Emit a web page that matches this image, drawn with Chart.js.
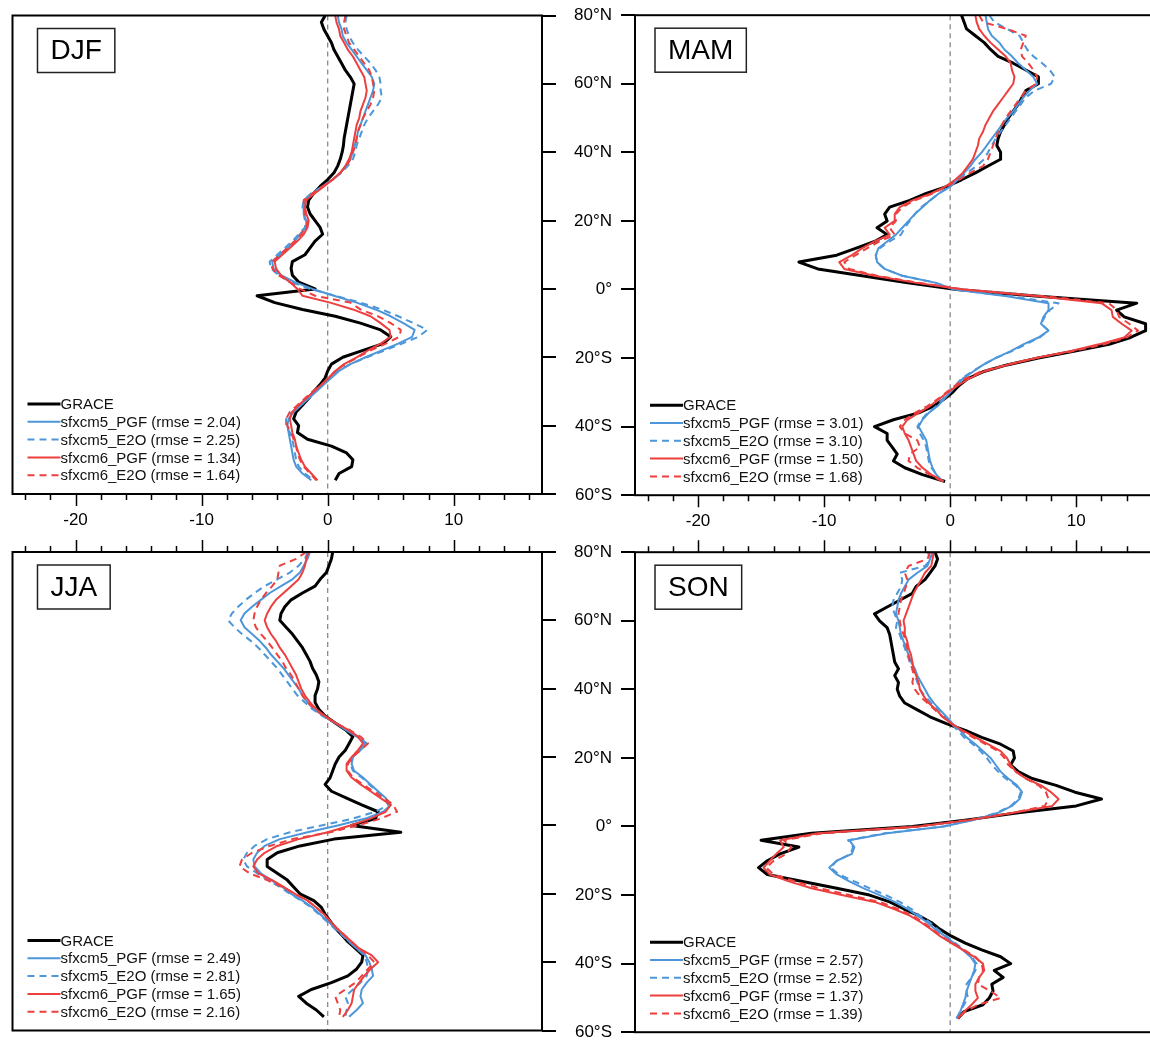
<!DOCTYPE html>
<html>
<head>
    <meta charset="utf-8">
    <title>Zonal mean by season</title>
    <script src="https://cdn.jsdelivr.net/npm/chart.js"></script>
    <style>
        html, body { margin: 0; padding: 0; background: #fff; overflow: hidden; }
        body { width: 1150px; height: 1040px; position: relative; }
        canvas { position: absolute; }
    </style>
    <script>
        // latitude of every sample, north to south
        const lat = [80, 78, 76, 74, 72, 70, 68, 66, 64, 62,
                     60, 58, 56, 54, 52, 50, 48, 46, 44, 42,
                     40, 38, 36, 34, 32, 30, 28, 26, 24, 22,
                     20, 18, 16, 14, 12, 10, 8, 6, 4, 2,
                     0, -2, -4, -6, -8, -10, -12, -14, -16, -18,
                     -20, -22, -24, -26, -28, -30, -32, -34, -36, -38,
                     -40, -42, -44, -46, -48, -50, -52, -54, -56];

        const xTicks = [-20, -10, 0, 10];
        const latTicks = [80, 60, 40, 20, 0, -20, -40, -60];
        const latLabels = ["80°N", "60°N", "40°N", "20°N", "0°", "20°S", "40°S", "60°S"];
        const seriesNames = ["GRACE", "sfxcm5_PGF", "sfxcm5_E2O", "sfxcm6_PGF", "sfxcm6_E2O"];

        // DJF
        const djfGrace = [-0.2, -0.5, -0.3, 0.0, 0.3, 0.5, 0.8, 1.1, 1.4, 1.8,
            2.1, 2.0, 1.9, 1.8, 1.7, 1.6, 1.5, 1.4, 1.3, 1.25,
            1.15, 1.0, 0.8, 0.5, 0.0, -0.6, -1.1, -1.5, -1.6, -1.4,
            -1.0, -0.6, -0.4, -1.0, -1.4, -1.8, -2.8, -2.9, -2.8, -2.3,
            -1.0, -5.6, -4.2, -2.0, 0.6, 2.6, 4.2, 5.0, 4.4, 2.8,
            1.2, 0.3, 0.0, -0.2, -0.6, -1.1, -1.5, -2.0, -2.5, -2.7,
            -2.3, -2.4, -1.6, 0.3, 1.5, 2.0, 1.9, 0.9, 0.6];
        const djfCm5Pgf = [0.8, 0.9, 1.1, 1.2, 1.5, 1.9, 2.3, 2.7, 3.1, 3.5,
            3.7, 3.6, 3.4, 3.2, 3.0, 2.8, 2.6, 2.4, 2.3, 2.15,
            2.0, 1.8, 1.5, 1.0, 0.4, -0.4, -1.2, -1.8, -1.9, -1.9,
            -1.7, -1.7, -2.2, -2.6, -3.2, -3.8, -4.4, -4.3, -3.7, -2.6,
            -1.2, 0.5, 2.3, 3.8, 5.0, 6.0, 6.9, 6.7, 5.6, 4.3,
            3.0, 1.8, 0.9, 0.3, -0.3, -0.9, -1.5, -2.1, -2.7, -3.1,
            -3.2, -3.1, -3.0, -2.9, -2.8, -2.7, -2.5, -2.0, -1.3];
        const djfCm5E2o = [1.5, 1.4, 1.5, 1.7, 2.0, 2.4, 2.9, 3.4, 3.8, 4.1,
            4.2, 4.2, 4.3, 4.0, 3.6, 3.2, 2.9, 2.7, 2.5, 2.3,
            2.2, 2.0, 1.6, 1.1, 0.4, -0.4, -1.3, -1.9, -2.0, -1.9,
            -1.8, -1.8, -2.3, -2.8, -3.4, -4.0, -4.6, -4.5, -3.9, -2.9,
            -1.4, 0.6, 2.6, 4.3, 5.6, 6.8, 7.9, 7.2, 5.9, 4.5,
            3.1, 1.8, 0.8, 0.2, -0.4, -1.0, -1.6, -2.2, -2.8, -3.3,
            -3.3, -3.0, -2.8, -2.7, -2.6, -2.5, -2.3, -1.8, -1.1];
        const djfCm6Pgf = [0.6, 0.7, 0.9, 1.0, 1.3, 1.6, 2.0, 2.3, 2.6, 2.9,
            3.0, 3.1, 3.0, 2.8, 2.6, 2.5, 2.3, 2.2, 2.1, 2.0,
            1.9, 1.7, 1.4, 1.0, 0.4, -0.3, -1.0, -1.7, -1.8, -1.7,
            -1.5, -1.6, -1.9, -2.4, -3.0, -3.6, -4.2, -4.1, -3.7, -3.0,
            -2.4, -2.0, 0.2, 2.0, 3.4, 4.2, 4.9, 5.0, 4.2, 3.2,
            2.3, 1.3, 0.6, 0.1, -0.5, -1.1, -1.7, -2.3, -2.8, -3.0,
            -2.9, -2.8, -2.6, -2.5, -2.3, -2.1, -1.8, -1.3, -0.8];
        const djfCm6E2o = [1.4, 1.3, 1.3, 1.5, 1.7, 2.1, 2.5, 2.9, 3.3, 3.5,
            3.6, 3.7, 3.6, 3.4, 3.1, 2.8, 2.6, 2.4, 2.3, 2.2,
            2.0, 1.8, 1.5, 1.0, 0.4, -0.4, -1.2, -1.9, -1.9, -1.8,
            -1.6, -1.7, -2.1, -2.6, -3.2, -3.8, -4.4, -4.4, -3.9, -3.0,
            -2.2, -1.0, 1.8, 2.6, 4.0, 5.0, 5.8, 5.7, 4.6, 3.4,
            2.4, 1.4, 0.6, 0.1, -0.5, -1.2, -1.8, -2.4, -3.0, -3.3,
            -3.2, -2.9, -2.7, -2.5, -2.4, -2.2, -1.9, -1.4, -0.9];
        const djfRmse = [2.04, 2.25, 1.34, 1.64];

        // MAM
        const mamGrace = [0.9, 1.1, 1.3, 2.0, 2.7, 3.2, 3.8, 5.0, 6.0, 7.0,
            7.0, 6.0, 5.7, 5.4, 5.0, 4.6, 4.3, 4.0, 3.8, 3.7,
            4.0, 4.0, 3.0, 2.0, 0.9, -0.3, -1.9, -3.2, -4.8, -5.2,
            -5.0, -5.8, -5.0, -6.0, -7.5, -9.0, -12.0, -10.5, -7.0, -3.5,
            0.5, 7.0, 14.8, 13.2, 13.8, 15.5, 15.5, 14.3, 12.6, 9.8,
            7.0, 4.5, 2.6, 1.4, 0.7, 0.2, -0.5, -1.3, -2.5, -4.5,
            -6.0, -5.0, -5.0, -4.6, -4.2, -4.5, -3.6, -2.2, -0.4];
        const mamCm5Pgf = [2.8, 2.9, 3.0, 3.3, 3.9, 4.3, 4.9, 5.4, 6.0, 6.6,
            6.9, 6.3, 5.8, 5.4, 5.0, 4.5, 4.1, 3.7, 3.3, 2.9,
            2.5, 2.0, 1.6, 1.1, 0.6, 0.0, -0.9, -1.6, -2.2, -2.8,
            -3.3, -3.8, -4.3, -5.0, -5.7, -5.9, -5.8, -5.2, -3.8, -1.2,
            0.3, 4.5, 7.8, 7.8, 7.4, 7.2, 7.8, 7.0, 5.8, 4.8,
            3.6, 2.6, 1.8, 1.0, 0.5, 0.0, -0.5, -1.0, -1.7, -2.2,
            -2.5, -2.2, -1.9, -1.8, -1.7, -1.6, -1.4, -1.1, -0.6];
        const mamCm5E2o = [3.1, 3.5, 4.5, 5.5, 5.8, 6.1, 6.6, 7.3, 7.9, 8.3,
            8.0, 6.7, 6.0, 5.6, 5.2, 4.8, 4.4, 4.0, 3.6, 3.3,
            3.0, 2.7, 2.1, 1.3, 0.6, 0.0, -0.9, -1.6, -2.3, -2.8,
            -3.2, -3.6, -3.9, -4.8, -5.6, -5.9, -5.8, -5.2, -3.8, -1.2,
            0.4, 4.8, 8.6, 7.9, 7.5, 7.2, 7.8, 7.1, 6.0, 4.9,
            3.6, 2.6, 1.7, 0.9, 0.4, -0.1, -0.6, -1.1, -1.8, -2.3,
            -2.6, -2.4, -2.1, -1.9, -1.8, -1.7, -1.5, -1.1, -0.6];
        const mamCm6Pgf = [2.0, 2.1, 2.3, 2.7, 3.2, 3.8, 4.4, 4.8, 4.9, 5.1,
            5.0, 4.6, 4.2, 3.8, 3.4, 3.1, 2.8, 2.6, 2.3, 2.2,
            2.0, 1.8, 1.4, 1.0, 0.4, -0.4, -1.5, -3.0, -4.0, -4.4,
            -4.4, -5.2, -4.8, -6.0, -7.0, -7.8, -8.8, -8.4, -6.0, -2.8,
            1.0, 7.0, 12.0, 12.8, 12.9, 13.6, 14.4, 13.8, 11.8, 9.5,
            6.8, 4.5, 2.6, 1.5, 0.6, -0.2, -0.9, -1.6, -2.5, -3.4,
            -3.8, -3.6, -3.3, -3.1, -2.9, -2.7, -2.2, -1.5, -0.5];
        const mamCm6E2o = [2.3, 2.6, 4.5, 6.0, 5.8, 5.6, 5.7, 6.2, 6.6, 6.9,
            6.8, 6.0, 5.6, 5.2, 4.8, 4.4, 4.1, 3.8, 3.6, 3.4,
            3.2, 3.0, 2.6, 1.6, 0.7, -0.3, -1.4, -2.8, -3.8, -4.3,
            -4.3, -4.8, -4.4, -5.6, -6.6, -7.5, -8.4, -8.0, -5.8, -2.6,
            1.2, 7.6, 12.6, 13.2, 13.4, 14.2, 14.9, 14.0, 12.2, 9.7,
            6.8, 4.4, 2.4, 1.2, 0.4, -0.3, -1.0, -1.8, -2.8, -3.6,
            -4.0, -3.6, -2.6, -2.4, -3.2, -3.3, -2.6, -1.6, -0.6];
        const mamRmse = [3.01, 3.10, 1.50, 1.68];

        // JJA
        const jjaGrace = [0.4, 0.3, 0.1, -0.1, -0.6, -1.0, -2.0, -2.9, -3.4, -3.7,
            -3.8, -3.3, -2.8, -2.4, -2.0, -1.7, -1.4, -1.2, -0.9, -0.7,
            -0.8, -1.0, -1.0, -0.7, -0.2, 0.6, 1.4, 2.0, 1.7, 1.4,
            0.9, 0.6, 0.4, 0.2, -0.2, 0.3, 1.5, 2.7, 4.0, 3.8,
            1.9, 5.8, 0.5, -2.2, -4.0, -4.8, -4.8, -4.0, -3.2, -2.7,
            -2.2, -1.1, -0.5, -0.2, 0.2, 0.6, 1.1, 1.6, 2.2, 2.8,
            2.7, 2.3, 1.6, 0.3, -1.3, -2.3, -1.7, -0.9, -0.3];
        const jjaCm5Pgf = [-1.4, -1.6, -1.9, -2.2, -2.8, -3.7, -4.6, -5.3, -6.0, -6.6,
            -6.9, -6.6, -6.0, -5.4, -4.9, -4.5, -4.0, -3.5, -3.1, -2.7,
            -2.3, -2.0, -1.6, -1.1, -0.3, 0.6, 1.4, 2.3, 3.0, 2.5,
            2.0, 1.9, 2.1, 2.8, 3.4, 4.0, 4.6, 5.0, 4.4, 3.0,
            0.8, -1.6, -3.8, -5.0, -5.6, -5.9, -5.8, -5.3, -4.5, -3.6,
            -2.9, -2.0, -1.2, -0.6, 0.0, 0.6, 1.2, 1.7, 2.3, 3.0,
            3.3, 3.5, 3.6, 3.1, 2.7, 2.6, 2.8, 2.3, 1.7];
        const jjaCm5E2o = [-1.6, -1.8, -2.3, -3.0, -4.0, -5.0, -5.8, -6.5, -7.1, -7.6,
            -7.9, -7.4, -6.8, -6.1, -5.5, -5.0, -4.5, -4.0, -3.6, -3.2,
            -2.8, -2.4, -1.8, -1.2, -0.4, 0.6, 1.5, 2.4, 3.1, 2.6,
            2.0, 1.8, 2.0, 2.7, 3.3, 3.9, 4.5, 4.8, 3.8, 2.0,
            -0.5, -3.0, -4.8, -5.8, -6.4, -6.7, -6.4, -5.6, -4.7, -3.8,
            -3.0, -2.1, -1.3, -0.7, -0.1, 0.5, 1.1, 1.7, 2.3, 2.9,
            3.1, 3.2, 3.1, 2.6, 2.0, 1.4, 1.6, 1.5, 1.4];
        const jjaCm6Pgf = [-1.5, -1.7, -1.8, -2.0, -2.3, -2.9, -3.5, -4.1, -4.5, -4.8,
            -5.0, -4.8, -4.5, -4.1, -3.8, -3.4, -3.1, -2.8, -2.5, -2.3,
            -2.1, -1.8, -1.4, -0.9, -0.2, 0.6, 1.6, 2.4, 2.8, 2.4,
            1.9, 1.5, 1.5, 1.9, 2.6, 3.4, 4.2, 5.0, 4.6, 3.4,
            1.8, 0.0, -2.3, -4.0, -5.0, -5.6, -5.9, -5.5, -4.4, -3.5,
            -2.6, -1.6, -0.9, -0.3, 0.2, 0.7, 1.3, 1.9, 2.5, 3.5,
            4.0, 3.4, 2.9, 2.5, 2.1, 2.0, 1.9, 1.6, 1.2];
        const jjaCm6E2o = [-1.7, -2.5, -3.8, -3.9, -4.0, -4.4, -4.9, -5.3, -5.6, -5.8,
            -5.9, -5.7, -5.3, -4.8, -4.4, -4.0, -3.6, -3.3, -2.9, -2.6,
            -2.3, -2.0, -1.6, -1.0, -0.3, 0.6, 1.7, 2.6, 3.2, 2.6,
            2.0, 1.6, 1.6, 2.0, 2.8, 3.6, 4.5, 5.2, 5.5, 4.2,
            2.4, 0.2, -2.8, -4.6, -6.0, -6.8, -7.0, -6.2, -4.8, -3.6,
            -2.6, -1.6, -0.9, -0.3, 0.2, 0.7, 1.3, 1.9, 2.5, 3.2,
            3.7, 3.2, 2.7, 2.2, 1.4, 0.6, 0.8, 1.0, 0.9];
        const jjaRmse = [2.49, 2.81, 1.65, 2.16];

        // SON
        const sonGrace = [-1.2, -1.0, -1.2, -1.6, -2.0, -2.7, -3.0, -4.0, -5.0, -6.0,
            -5.6, -5.0, -4.8, -4.7, -4.6, -4.5, -4.4, -4.1, -4.4, -4.1,
            -4.2, -4.0, -3.6, -2.6, -1.6, -0.3, 1.2, 2.5, 4.0, 5.0,
            5.1, 4.8, 5.4, 6.5, 8.4, 9.9, 12.0, 10.0, 5.4, 1.5,
            -3.0, -11.0, -15.0, -12.0, -13.5, -14.5, -15.2, -14.5, -11.8, -9.0,
            -6.4, -4.8, -3.7, -2.5, -1.5, -0.8, 0.1, 1.2, 2.5, 4.0,
            4.8, 3.5, 4.2, 3.3, 3.4, 3.1, 2.6, 1.1, 0.6];
        const sonCm5Pgf = [-1.4, -1.6, -1.8, -2.6, -3.3, -3.6, -3.9, -4.1, -4.2, -4.3,
            -4.1, -4.0, -3.9, -3.7, -3.5, -3.3, -3.1, -2.8, -2.6, -2.3,
            -2.0, -1.7, -1.3, -0.8, -0.3, 0.2, 0.8, 1.3, 2.0, 2.6,
            3.2, 3.6, 4.0, 4.6, 5.3, 5.7, 5.5, 4.9, 3.8, 2.0,
            -0.5, -5.0, -8.0, -7.6, -7.8, -9.0, -9.6, -9.0, -8.0, -6.9,
            -5.6, -4.4, -3.4, -2.6, -1.8, -1.2, -0.4, 0.3, 1.0, 1.6,
            2.0, 1.9, 1.7, 1.5, 1.3, 1.2, 1.0, 0.8, 0.5];
        const sonCm5E2o = [-1.8, -1.5, -2.0, -4.0, -3.8, -3.9, -4.2, -4.5, -4.6, -4.4,
            -4.2, -4.3, -4.0, -3.8, -3.6, -3.4, -3.2, -3.0, -2.8, -2.6,
            -2.4, -2.0, -1.5, -0.9, -0.4, 0.1, 0.6, 1.1, 1.8, 2.4,
            2.9, 3.3, 3.8, 4.4, 5.2, 5.6, 5.4, 4.8, 3.7, 1.9,
            -0.6, -5.2, -8.1, -7.7, -7.9, -9.0, -9.5, -8.8, -7.6, -6.4,
            -5.1, -4.0, -3.1, -2.4, -1.6, -1.0, -0.3, 0.4, 1.1, 1.7,
            2.1, 2.0, 1.7, 1.3, 1.3, 1.4, 1.1, 0.8, 0.5];
        const sonCm6Pgf = [-1.3, -1.4, -1.5, -2.0, -2.3, -2.6, -2.9, -3.1, -3.3, -3.5,
            -3.7, -3.6, -3.6, -3.4, -3.3, -3.1, -3.0, -2.9, -2.7, -2.5,
            -2.4, -2.1, -1.7, -1.1, -0.6, 0.1, 1.0, 2.0, 3.0, 4.0,
            4.5, 4.8, 5.2, 6.0, 7.2, 8.0, 8.6, 8.1, 5.0, 1.8,
            -2.5, -10.5, -13.5, -13.2, -13.8, -14.3, -14.8, -14.3, -12.8, -11.0,
            -8.6, -6.0, -4.5, -3.2, -2.3, -1.5, -0.8, 0.1, 1.0, 1.9,
            2.6, 2.7, 2.3, 2.0, 2.0, 2.2, 1.7, 1.1, 0.6];
        const sonCm6E2o = [-1.6, -1.8, -3.3, -3.6, -3.4, -3.5, -3.7, -3.9, -4.0, -4.1,
            -4.0, -3.9, -3.7, -3.5, -3.4, -3.3, -3.2, -3.0, -2.9, -3.0,
            -2.8, -2.4, -1.8, -1.2, -0.6, 0.1, 0.9, 1.8, 2.8, 3.8,
            4.3, 4.6, 5.2, 6.0, 7.0, 7.6, 7.8, 7.5, 5.0, 1.6,
            -2.6, -10.2, -13.2, -12.6, -13.0, -14.0, -14.6, -14.0, -12.3, -10.4,
            -8.0, -5.6, -4.2, -3.0, -2.1, -1.4, -0.7, 0.2, 1.1, 2.0,
            2.5, 2.6, 2.3, 2.2, 3.2, 4.0, 2.2, 1.2, 0.6];
        const sonRmse = [2.57, 2.52, 1.37, 1.39];

        const BLUE = "#4d96da";
        const RED = "#ee3f3f";
        const FONT = '"Liberation Sans", Arial, Helvetica, sans-serif';
        const lineStyles = [
            { color: "#000000", width: 3, dash: [] },
            { color: BLUE, width: 2, dash: [] },
            { color: BLUE, width: 2, dash: [7, 5] },
            { color: RED, width: 2, dash: [] },
            { color: RED, width: 2, dash: [7, 5] }
        ];

        // plot frame, tick marks, zero line, season box and legend
        const panelDecor = {
            id: "panelDecor",
            beforeDatasetsDraw(chart) {
                const a = chart.chartArea;
                const px = chart.scales.x.getPixelForValue(0);
                const ctx = chart.ctx;
                ctx.save();
                ctx.strokeStyle = "#8a8a8a";
                ctx.lineWidth = 1.3;
                ctx.setLineDash([5, 4]);
                ctx.beginPath();
                ctx.moveTo(px, a.top);
                ctx.lineTo(px, a.bottom);
                ctx.stroke();
                ctx.restore();
            },
            afterDraw(chart, args, opts) {
                const ctx = chart.ctx;
                const a = chart.chartArea;
                const xs = chart.scales.x;
                const ys = chart.scales.y;
                ctx.save();
                ctx.strokeStyle = "#000";
                ctx.lineWidth = 2;
                ctx.strokeRect(a.left, a.top, a.right - a.left, a.bottom - a.top);

                // x ticks, outward
                const xEdge = opts.xSide === "bottom" ? a.bottom : a.top;
                const xDir = opts.xSide === "bottom" ? 1 : -1;
                ctx.lineWidth = 1.5;
                ctx.beginPath();
                for (let v = -24; v <= 16; v += 2) {
                    const p = Math.round(xs.getPixelForValue(v)) + 0.5;
                    const len = xTicks.includes(v) ? 12 : 6;
                    ctx.moveTo(p, xEdge);
                    ctx.lineTo(p, xEdge + xDir * len);
                }
                ctx.stroke();

                // latitude ticks, outward
                const yEdge = opts.ySide === "left" ? a.left : a.right;
                const yDir = opts.ySide === "left" ? -1 : 1;
                ctx.lineWidth = 2;
                ctx.beginPath();
                latTicks.forEach(v => {
                    const p = Math.round(ys.getPixelForValue(v));
                    ctx.moveTo(yEdge, p);
                    ctx.lineTo(yEdge + yDir * 14, p);
                });
                ctx.stroke();

                // season label box
                ctx.font = "28px " + FONT;
                ctx.fillStyle = "#000";
                ctx.textBaseline = "middle";
                ctx.textAlign = "center";
                const tw = ctx.measureText(opts.season).width;
                const bx = a.left + opts.boxOffset, by = a.top + 13, bw = tw + 26, bh = 44;
                ctx.lineWidth = 1.5;
                ctx.strokeStyle = "#222";
                ctx.strokeRect(bx, by, bw, bh);
                ctx.fillText(opts.season, bx + bw / 2, by + bh / 2 + 1);

                // legend
                ctx.font = "15px " + FONT;
                ctx.textAlign = "left";
                chart.data.datasets.forEach((ds, i) => {
                    const y = a.bottom - 90 + i * 17.8;
                    ctx.strokeStyle = ds.borderColor;
                    ctx.lineWidth = ds.borderWidth;
                    ctx.setLineDash(ds.borderDash);
                    ctx.beginPath();
                    ctx.moveTo(a.left + 15, y);
                    ctx.lineTo(a.left + 48, y);
                    ctx.stroke();
                    ctx.setLineDash([]);
                    ctx.fillStyle = "#111";
                    ctx.fillText(ds.label, a.left + 48, y + 1);
                });
                ctx.restore();
            }
        };

        const PLOT_W = 531, PLOT_H = 480;
        const colLeft = [12, 635];
        const rowTop = [15, 552];

        function makePanel(id, season, series, rmse, col, row) {
            const yAxisW = col === 0 ? 16 : 95;
            const xAxisH = row === 0 ? 40 : 18;
            const canvas = document.getElementById(id);
            canvas.width = PLOT_W + yAxisW + 20;
            canvas.height = PLOT_H + xAxisH + 40;

            const datasets = series.map((values, i) => ({
                label: i === 0 ? seriesNames[0]
                    : seriesNames[i] + " (rmse = " + rmse[i - 1].toFixed(2) + ")",
                data: lat.map((la, k) => ({ x: values[k], y: la })),
                showLine: true,
                pointRadius: 0,
                borderColor: lineStyles[i].color,
                borderWidth: lineStyles[i].width,
                borderDash: lineStyles[i].dash,
                borderJoinStyle: "round",
                order: 5 - i
            }));

            const chart = new Chart(canvas.getContext("2d"), {
                type: "scatter",
                data: { datasets },
                options: {
                    responsive: false,
                    maintainAspectRatio: false,
                    devicePixelRatio: 1,
                    animation: false,
                    events: [],
                    layout: { padding: 0 },
                    plugins: {
                        legend: { display: false },
                        tooltip: { enabled: false },
                        panelDecor: {
                            season,
                            xSide: row === 0 ? "bottom" : "top",
                            ySide: col === 0 ? "right" : "left",
                            boxOffset: col === 0 ? 25 : 20
                        }
                    },
                    scales: {
                        x: {
                            type: "linear",
                            position: row === 0 ? "bottom" : "top",
                            min: -25,
                            max: 17,
                            grid: { display: false, drawTicks: false },
                            border: { display: false },
                            afterBuildTicks: s => { s.ticks = xTicks.map(v => ({ value: v })); },
                            afterFit: s => { s.height = xAxisH; },
                            ticks: {
                                display: row === 0,
                                autoSkip: false,
                                maxRotation: 0,
                                padding: 16,
                                color: "#000",
                                font: { family: FONT, size: 17 }
                            }
                        },
                        y: {
                            type: "linear",
                            position: col === 0 ? "right" : "left",
                            min: -60,
                            max: 80,
                            grid: { display: false, drawTicks: false },
                            border: { display: false },
                            afterBuildTicks: s => { s.ticks = latTicks.map(v => ({ value: v })); },
                            afterFit: s => { s.width = yAxisW; },
                            ticks: {
                                display: col === 1,
                                autoSkip: false,
                                padding: 23,
                                color: "#000",
                                font: { family: FONT, size: 17 },
                                callback: v => latLabels[latTicks.indexOf(v)]
                            }
                        }
                    }
                },
                plugins: [panelDecor]
            });

            // make the plot area exactly PLOT_W x PLOT_H, then place it on the page
            let a = chart.chartArea;
            const dw = PLOT_W - (a.right - a.left);
            const dh = PLOT_H - (a.bottom - a.top);
            if (dw !== 0 || dh !== 0) {
                chart.resize(canvas.width + dw, canvas.height + dh);
                a = chart.chartArea;
            }
            canvas.style.left = (colLeft[col] - a.left) + "px";
            canvas.style.top = (rowTop[row] - a.top) + "px";
            return chart;
        }

        window.addEventListener("load", () => {
            makePanel("djf", "DJF", [djfGrace, djfCm5Pgf, djfCm5E2o, djfCm6Pgf, djfCm6E2o], djfRmse, 0, 0);
            makePanel("mam", "MAM", [mamGrace, mamCm5Pgf, mamCm5E2o, mamCm6Pgf, mamCm6E2o], mamRmse, 1, 0);
            makePanel("jja", "JJA", [jjaGrace, jjaCm5Pgf, jjaCm5E2o, jjaCm6Pgf, jjaCm6E2o], jjaRmse, 0, 1);
            makePanel("son", "SON", [sonGrace, sonCm5Pgf, sonCm5E2o, sonCm6Pgf, sonCm6E2o], sonRmse, 1, 1);
        });
    </script>
</head>
<body>
    <canvas id="djf"></canvas>
    <canvas id="mam"></canvas>
    <canvas id="jja"></canvas>
    <canvas id="son"></canvas>
</body>
</html>
